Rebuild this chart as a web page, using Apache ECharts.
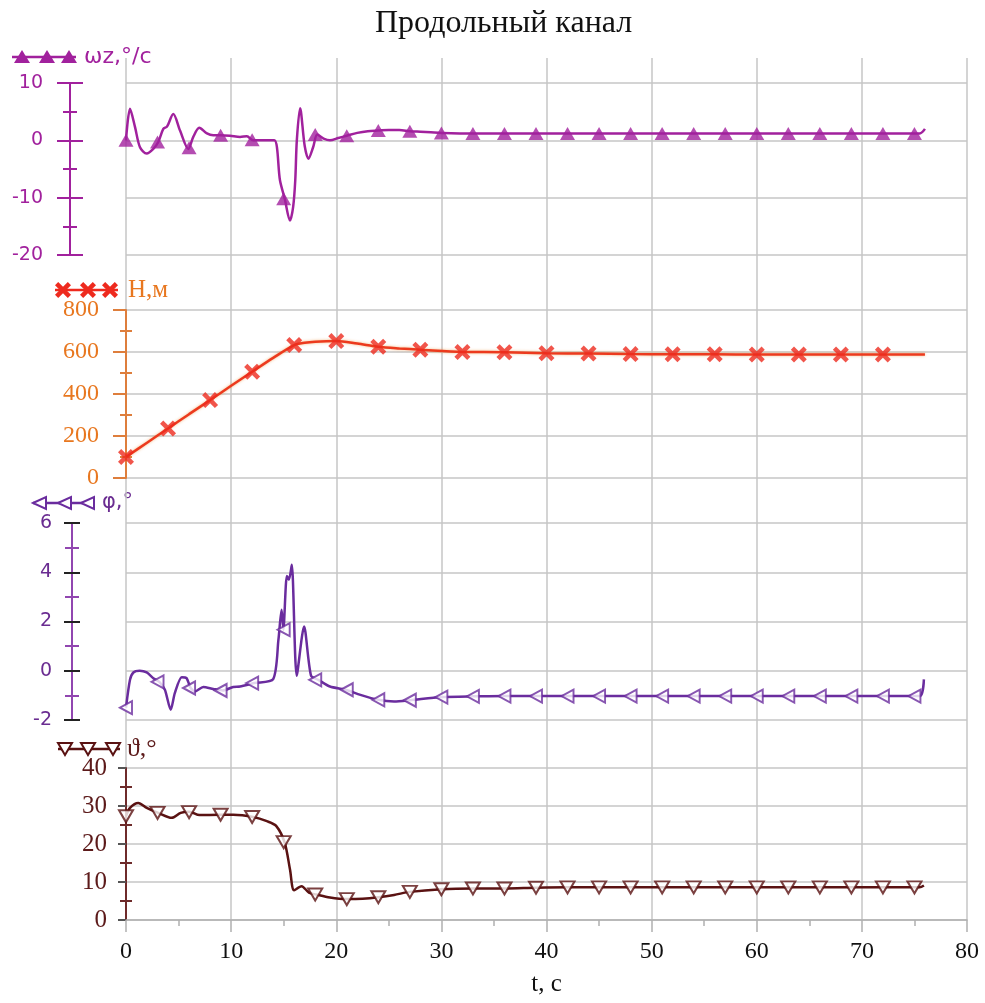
<!DOCTYPE html>
<html>
<head>
<meta charset="utf-8">
<script src="https://cdn.jsdelivr.net/npm/echarts@6/dist/echarts.min.js"></script>
<style>
html,body{margin:0;padding:0;background:#fff;}
#chart{width:985px;height:1003px;}
</style>
</head>
<body>
<div id="chart"></div>
<script>
// ---------------- DATA ----------------
const titleText = 'Продольный канал';
const xTicks = [0, 10, 20, 30, 40, 50, 60, 70, 80];
const xName = 't, c';

// ωz, °/c  : [t, value]
const omegaZ = [[0,0],[0.38,5.5],[0.86,2.3],[1.33,-1.2],[1.97,-2.3],[2.6,-1.5],[3.07,-0.3],[3.55,2.0],[3.9,2.4],[4.5,4.6],[5.14,1.7],[5.93,-1.5],[6.4,0.6],[6.97,2.2],[7.7,1.2],[8.3,0.9],[9,0.9],[9.9,0.8],[10.85,0.6],[11.5,0.7],[12.1,0.0],[13,0],[14.1,0],[14.65,-7],[15.1,-10.2],[15.6,-14],[15.9,-11.6],[16.1,-7],[16.25,0],[16.56,5.6],[17.0,-1],[17.35,-3.2],[17.8,-1.2],[18.2,1.0],[18.8,0.3],[19.4,0],[20.2,0.4],[21,0.8],[22,1.3],[23,1.6],[24,1.7],[25,1.8],[26,1.8],[27,1.6],[28,1.5],[29,1.4],[30,1.3],[33,1.2],[36,1.2],[40,1.2],[45,1.2],[50,1.2],[55,1.2],[60,1.2],[65,1.2],[70,1.2],[75.5,1.2],[76,2.0]];
const omegaZMarkT = [0,3,6,9,12,15,18,21,24,27,30,33,36,39,42,45,48,51,54,57,60,63,66,69,72,75];
const omegaZMarkV = [0,-0.3,-1.3,0.9,0.1,-10.2,1.0,0.8,1.7,1.6,1.3,1.2,1.2,1.2,1.2,1.2,1.2,1.2,1.2,1.2,1.2,1.2,1.2,1.2,1.2,1.2];
const omegaZTicks = [-20, -10, 0, 10];

// H, м
const heightH = [[0,100],[2,168],[4,236],[6,304],[8,371],[10,439],[12,506],[14,572],[16,633],[17,644],[18,649],[20,652],[22,640],[24,625],[26,617],[28,611],[32,600],[36,599],[40,594],[44,593],[48,590],[52,589],[56,589],[60,588],[64,588],[68,588],[72,588],[76,588]];
const heightMarkT = [0,4,8,12,16,20,24,28,32,36,40,44,48,52,56,60,64,68,72];
const heightMarkV = [100,236,371,506,633,652,625,611,600,599,594,593,590,589,589,588,588,588,588];
const heightTicks = [0, 200, 400, 600, 800];

// φ, °
const phi = [[0,-1.5],[0.38,-0.37],[0.7,-0.07],[1.3,0.0],[1.97,-0.07],[2.6,-0.3],[3.17,-0.45],[3.7,-0.77],[4.25,-1.58],[4.65,-0.9],[5.3,-0.26],[5.76,-0.3],[6.15,-0.7],[6.57,-0.84],[7.35,-0.66],[8.3,-0.74],[9.2,-0.8],[10.2,-0.66],[10.85,-0.64],[12.2,-0.5],[14.0,-0.34],[14.5,1.26],[14.8,2.48],[14.97,1.67],[15.3,3.85],[15.5,3.7],[15.77,4.3],[16.24,-0.2],[16.94,1.8],[17.6,-0.2],[18.3,-0.37],[19.4,-0.64],[20.9,-0.77],[22.3,-0.98],[24,-1.18],[25.5,-1.25],[27,-1.2],[30,-1.07],[33,-1.04],[36,-1.03],[40,-1.03],[45,-1.03],[50,-1.03],[55,-1.03],[60,-1.03],[65,-1.03],[70,-1.03],[75.5,-1.03],[75.9,-0.35]];
const phiMarkT = [0,3,6,9,12,15,18,21,24,27,30,33,36,39,42,45,48,51,54,57,60,63,66,69,72,75];
const phiMarkV = [-1.5,-0.45,-0.7,-0.8,-0.5,1.67,-0.37,-0.77,-1.18,-1.2,-1.07,-1.04,-1.03,-1.03,-1.03,-1.03,-1.03,-1.03,-1.03,-1.03,-1.03,-1.03,-1.03,-1.03,-1.03,-1.03];
const phiTicks = [-2, 0, 2, 4, 6];

// ϑ, °
const theta = [[0,27.3],[0.38,29.5],[1.17,30.8],[1.97,29.5],[3.07,28.2],[4.35,26.9],[5.2,28.2],[6.0,28.5],[7.0,27.6],[8.9,27.7],[10.2,27.7],[12.1,27.1],[13.4,26.0],[14.3,24.7],[15.1,20.3],[15.6,13.3],[16.0,7.8],[16.7,8.9],[17.4,7.2],[18.1,6.7],[19.4,5.9],[21,5.5],[22.5,5.6],[24,6.0],[25.5,6.6],[27,7.4],[30,8.1],[33,8.3],[36,8.3],[39,8.5],[42,8.6],[50,8.6],[60,8.6],[70,8.6],[75.5,8.6],[75.9,9.1]];
const thetaMarkT = [0,3,6,9,12,15,18,21,24,27,30,33,36,39,42,45,48,51,54,57,60,63,66,69,72,75];
const thetaMarkV = [27.3,28.2,28.4,27.7,27.1,20.5,6.7,5.5,6.0,7.4,8.1,8.3,8.3,8.5,8.6,8.6,8.6,8.6,8.6,8.6,8.6,8.6,8.6,8.6,8.6,8.6];
const thetaTicks = [0, 10, 20, 30, 40];

const seriesNames = ['ωz,°/c', 'H,м', 'φ,°', 'ϑ,°'];

// ---------------- STYLE ----------------
const SERIF = '"Liberation Serif","Times New Roman",serif';
const SANS = '"DejaVu Sans",Verdana,sans-serif';
const GRID = '#c6c6c6';
const C_WZ = '#A1219D';
const C_H_LINE = '#EC3A1E', C_H_MARK = '#EE2A1E', C_H_AXIS = '#DE7E3C', C_H_LABEL = '#E8771F';
const C_PHI = '#6A2C9E', C_PHI_AXIS = '#9146B0', C_PHI_LABEL = '#6A2C91';
const C_TH = '#5A1212', C_TH_AXIS = '#6E2B2B', C_TH_LABEL = '#5C1A1A';
const X_PATH = 'path://M2,0 L5,3 L8,0 L10,2 L7,5 L10,8 L8,10 L5,7 L2,10 L0,8 L3,5 L0,2 Z';

const L = 126, R = 18;
const grids = [
  {left: L, right: R, top: 58, bottom: 83},
  {left: L, right: R, top: 83, height: 172},
  {left: L, right: R, top: 310, height: 168},
  {left: L, right: R, top: 523, height: 197},
  {left: L, right: R, top: 768, height: 152}
];

const xAxes = [{
  gridIndex: 0, type: 'value', min: xTicks[0], max: xTicks[xTicks.length-1], interval: 10,
  name: xName, nameLocation: 'middle', nameGap: 52,
  nameTextStyle: {fontFamily: SERIF, fontSize: 25, color: '#111'},
  axisLine: {show: true, lineStyle: {color: '#b0b0b0', width: 1.5}},
  axisTick: {show: true, length: 12, lineStyle: {color: '#b0b0b0', width: 1.5}},
  minorTick: {show: true, splitNumber: 2, length: 6, lineStyle: {color: '#b0b0b0', width: 1.5}},
  axisLabel: {fontFamily: SERIF, fontSize: 24, color: '#111', margin: 20},
  splitLine: {show: true, lineStyle: {color: GRID, width: 1.5}}
}];
for (let g = 1; g <= 4; g++) {
  xAxes.push({gridIndex: g, type: 'value', min: 0, max: 80, interval: 10, show: false});
}

function yPair(g, ticks, offset, o) {
  const min = ticks[0], max = ticks[ticks.length-1], interval = ticks[1]-ticks[0];
  const main = {
    gridIndex: g, type: 'value', min, max, interval, position: 'left', offset,
    axisLine: {show: true, onZero: false, lineStyle: {color: o.axis, width: 2}},
    axisTick: {show: true, length: o.tickLen, lineStyle: {color: o.tick, width: 2}},
    minorTick: {show: true, splitNumber: 2, length: o.minorLen, lineStyle: {color: o.minor, width: 2}},
    axisLabel: {color: o.label, fontSize: o.fontSize, fontFamily: o.font, margin: o.margin},
    splitLine: {show: true, lineStyle: {color: GRID, width: 1.5}}
  };
  const inner = {
    gridIndex: g, type: 'value', min, max, interval, position: 'left', offset,
    axisLine: {show: false, onZero: false},
    axisTick: {show: o.tickCross, inside: true, length: o.tickLen, lineStyle: {color: o.tick, width: 2}},
    minorTick: {show: true, splitNumber: 2, length: o.minorLen, lineStyle: {color: o.minor, width: 2}},
    axisLabel: {show: false},
    splitLine: {show: false}
  };
  return [main, inner];
}

const yAxes = [{gridIndex: 0, type: 'value', min: 0, max: 1, show: false}];
yAxes.push(...yPair(1, omegaZTicks, 56, {axis: C_WZ, tick: C_WZ, minor: C_WZ, label: C_WZ, tickLen: 13, minorLen: 7, tickCross: true, fontSize: 19, font: SANS, margin: 27}));
yAxes.push(...yPair(2, heightTicks, 0, {axis: C_H_AXIS, tick: C_H_AXIS, minor: C_H_AXIS, label: C_H_LABEL, tickLen: 13, minorLen: 6, tickCross: false, fontSize: 24, font: SERIF, margin: 27}));
yAxes.push(...yPair(3, phiTicks, 54, {axis: C_PHI_AXIS, tick: '#222', minor: C_PHI_AXIS, label: C_PHI_LABEL, tickLen: 8, minorLen: 7, tickCross: true, fontSize: 19, font: SANS, margin: 20}));
yAxes.push(...yPair(4, thetaTicks, 0, {axis: C_TH_AXIS, tick: '#555', minor: C_TH_AXIS, label: C_TH_LABEL, tickLen: 8, minorLen: 6, tickCross: false, fontSize: 25, font: SERIF, margin: 19}));

function zip(ts, vs) { return ts.map((t, i) => [t, vs[i]]); }

const series = [
  {name: seriesNames[0], type: 'line', xAxisIndex: 1, yAxisIndex: 1, data: omegaZ, symbol: 'none', smooth: 0.3,
   lineStyle: {color: C_WZ, width: 2.5}, z: 3},
  {type: 'scatter', xAxisIndex: 1, yAxisIndex: 1, data: zip(omegaZMarkT, omegaZMarkV), symbol: 'triangle', symbolSize: [15, 13],
   itemStyle: {color: C_WZ}, z: 4},
  {name: seriesNames[1], type: 'line', xAxisIndex: 2, yAxisIndex: 3, data: heightH, symbol: 'none', smooth: 0.3,
   lineStyle: {color: C_H_LINE, width: 2.5, shadowColor: 'rgba(235,140,50,0.6)', shadowBlur: 3}, z: 3},
  {type: 'scatter', xAxisIndex: 2, yAxisIndex: 3, data: zip(heightMarkT, heightMarkV), symbol: X_PATH, symbolSize: 16,
   itemStyle: {color: C_H_MARK}, z: 4},
  {name: seriesNames[2], type: 'line', xAxisIndex: 3, yAxisIndex: 5, data: phi, symbol: 'none', smooth: 0.25,
   lineStyle: {color: C_PHI, width: 2.5}, z: 3},
  {type: 'scatter', xAxisIndex: 3, yAxisIndex: 5, data: zip(phiMarkT, phiMarkV), symbol: 'triangle', symbolRotate: 90, symbolSize: [13, 12],
   itemStyle: {color: '#fff', borderColor: C_PHI, borderWidth: 2}, z: 4},
  {name: seriesNames[3], type: 'line', xAxisIndex: 4, yAxisIndex: 7, data: theta, symbol: 'none', smooth: 0.3,
   lineStyle: {color: C_TH, width: 2.5}, z: 3},
  {type: 'scatter', xAxisIndex: 4, yAxisIndex: 7, data: zip(thetaMarkT, thetaMarkV), symbol: 'triangle', symbolRotate: 180, symbolSize: [14, 12],
   itemStyle: {color: '#fff', borderColor: C_TH, borderWidth: 2}, z: 4}
];

// ---------------- legend-like labels (decoration) ----------------
function tri(cx, cy, dir) {
  if (dir === 'up') return [[cx-8, cy+6], [cx+8, cy+6], [cx, cy-7]];
  if (dir === 'down') return [[cx-7, cy-6], [cx+7, cy-6], [cx, cy+6]];
  return [[cx-7, cy], [cx+6, cy-6], [cx+6, cy+6]];
}
function xShape(cx, cy) {
  const p = [[2,0],[5,3],[8,0],[10,2],[7,5],[10,8],[8,10],[5,7],[2,10],[0,8],[3,5],[0,2]];
  return p.map(([a, b]) => [cx + (a-5)*1.6, cy + (b-5)*1.6]);
}
function legendGroup(x1, x2, y, centers, color, kind, text, tx, font, tcolor) {
  const els = [{type: 'line', shape: {x1, y1: y, x2, y2: y}, style: {stroke: color, lineWidth: 2.5}}];
  centers.forEach(cx => {
    let pts, style;
    if (kind === 'up') { pts = tri(cx, y, 'up'); style = {fill: color}; }
    else if (kind === 'x') { pts = xShape(cx, y); style = {fill: color}; }
    else { pts = tri(cx, y, kind); style = {fill: '#fff', stroke: color, lineWidth: 2}; }
    els.push({type: 'polygon', shape: {points: pts}, style});
  });
  els.push({type: 'text', style: {text, x: tx, y, font, fill: tcolor, align: 'left', verticalAlign: 'middle', textVerticalAlign: 'middle'}});
  return els;
}
const graphics = [].concat(
  legendGroup(12, 76, 57, [22, 47, 69], C_WZ, 'up', seriesNames[0], 84, '22px ' + SANS, C_WZ),
  legendGroup(55, 118, 290, [63, 88, 110], C_H_MARK, 'x', seriesNames[1], 128, '25px ' + SERIF, C_H_LABEL),
  legendGroup(33, 95, 503, [40, 65, 88], C_PHI, 'left', seriesNames[2], 102, '21px ' + SANS, C_PHI_LABEL),
  legendGroup(58, 120, 749, [65, 88, 113], C_TH, 'down', seriesNames[3], 127, '26px ' + SERIF, C_TH_LABEL)
);

const chart = echarts.init(document.getElementById('chart'), null, {renderer: 'canvas'});
chart.setOption({
  animation: false,
  backgroundColor: '#fff',
  title: {text: titleText, left: 370, top: 3, textStyle: {fontFamily: SERIF, fontSize: 32, fontWeight: 'normal', color: '#111'}},
  grid: grids,
  xAxis: xAxes,
  yAxis: yAxes,
  series,
  graphic: graphics
});
</script>
</body>
</html>
